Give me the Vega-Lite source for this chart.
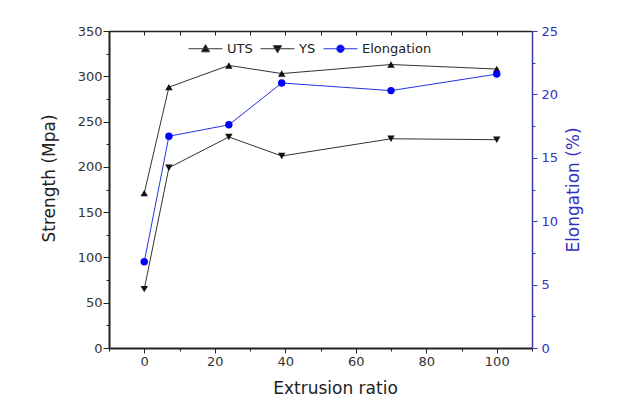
{
  "$schema": "https://vega.github.io/schema/vega-lite/v6.json",
  "width": 423,
  "height": 317,
  "autosize": "none",
  "padding": {"left": 109, "top": 31, "right": 86, "bottom": 65},
  "background": "white",
  "config": {
    "font": "DejaVu Sans",
    "view": {"stroke": null},
    "axis": {
      "grid": false,
      "labelFont": "DejaVu Sans",
      "labelFontSize": 13,
      "labelColor": "#333333",
      "titleFont": "DejaVu Sans",
      "titleFontSize": 17,
      "titleFontWeight": "normal",
      "titleColor": "#222222",
      "domainColor": "#222222",
      "domainWidth": 2,
      "tickColor": "#222222",
      "tickWidth": 1
    }
  },
  "data": {
    "values": [
      {"ratio": 0, "series": "UTS", "value": 171},
      {"ratio": 7, "series": "UTS", "value": 288},
      {"ratio": 24, "series": "UTS", "value": 312},
      {"ratio": 39, "series": "UTS", "value": 303},
      {"ratio": 70, "series": "UTS", "value": 313},
      {"ratio": 100, "series": "UTS", "value": 308},
      {"ratio": 0, "series": "YS", "value": 65},
      {"ratio": 7, "series": "YS", "value": 199},
      {"ratio": 24, "series": "YS", "value": 233},
      {"ratio": 39, "series": "YS", "value": 212},
      {"ratio": 70, "series": "YS", "value": 231},
      {"ratio": 100, "series": "YS", "value": 230},
      {"ratio": 0, "series": "Elongation", "value": 6.8},
      {"ratio": 7, "series": "Elongation", "value": 16.7},
      {"ratio": 24, "series": "Elongation", "value": 17.6},
      {"ratio": 39, "series": "Elongation", "value": 20.9},
      {"ratio": 70, "series": "Elongation", "value": 20.3},
      {"ratio": 100, "series": "Elongation", "value": 21.6}
    ]
  },
  "layer": [
    {
      "transform": [{"filter": "datum.series !== 'Elongation'"}],
      "encoding": {
        "x": {
          "field": "ratio",
          "type": "quantitative",
          "scale": {"domain": [-10, 110], "nice": false, "zero": false},
          "axis": {
            "orient": "bottom",
            "title": "Extrusion ratio",
            "titleX": 226,
            "titlePadding": 12,
            "values": [-10, 0, 10, 20, 30, 40, 50, 60, 70, 80, 90, 100, 110],
            "labelExpr": "(datum.value % 20 === 0 && datum.value >= 0 && datum.value <= 100) ? datum.label : ''",
            "tickSize": {"condition": {"test": "datum.value % 20 === 0", "value": 5}, "value": 3},
            "labelPadding": 2,
            "labelFlush": false,
            "labelOverlap": false
          }
        },
        "y": {
          "field": "value",
          "type": "quantitative",
          "scale": {"domain": [0, 350], "nice": false},
          "axis": {
            "orient": "left",
            "title": "Strength (Mpa)",
            "titleY": 147,
            "titlePadding": 19,
            "values": [0, 25, 50, 75, 100, 125, 150, 175, 200, 225, 250, 275, 300, 325, 350],
            "labelExpr": "datum.value % 50 === 0 ? datum.label : ''",
            "tickSize": {"condition": {"test": "datum.value % 50 === 0", "value": 6}, "value": 3},
            "labelPadding": 1,
            "labelFlush": false,
            "labelOverlap": false
          }
        }
      },
      "layer": [
        {
          "mark": {"type": "line", "color": "#333333", "strokeWidth": 1},
          "encoding": {"detail": {"field": "series", "type": "nominal"}}
        },
        {
          "transform": [{"filter": "datum.series === 'UTS'"}],
          "mark": {"type": "point", "filled": true, "color": "#111111", "size": 55, "opacity": 1, "shape": "triangle-up"},
          "encoding": {}
        },
        {
          "transform": [{"filter": "datum.series === 'YS'"}],
          "mark": {"type": "point", "filled": true, "color": "#111111", "size": 55, "opacity": 1, "shape": "triangle-down"},
          "encoding": {}
        }
      ]
    },
    {
      "transform": [{"filter": "datum.series === 'Elongation'"}],
      "encoding": {
        "x": {
          "field": "ratio",
          "type": "quantitative",
          "scale": {"domain": [-10, 110], "nice": false, "zero": false},
          "axis": {
            "orient": "top",
            "title": null,
            "labels": false,
            "values": [-10, 0, 10, 20, 30, 40, 50, 60, 70, 80, 90, 100, 110],
            "tickSize": -4,
            "domainWidth": 1.5
          }
        },
        "y": {
          "field": "value",
          "type": "quantitative",
          "scale": {"domain": [0, 25], "nice": false},
          "axis": {
            "orient": "right",
            "title": "Elongation (%)",
            "titleAngle": 270,
            "titleBaseline": "top",
            "titlePadding": 8,
            "titleColor": "#3333bb",
            "labelColor": "#3333bb",
            "domainColor": "#3b3bb0",
            "domainWidth": 1.5,
            "tickColor": "#3b3bb0",
            "values": [0, 2.5, 5, 7.5, 10, 12.5, 15, 17.5, 20, 22.5, 25],
            "labelExpr": "datum.value % 5 === 0 ? datum.label : ''",
            "tickSize": {"condition": {"test": "datum.value % 5 === 0", "value": 5}, "value": 3},
            "labelPadding": 4,
            "labelFlush": false,
            "labelOverlap": false
          }
        }
      },
      "layer": [
        {
          "mark": {"type": "line", "color": "#2233dd", "strokeWidth": 1},
          "encoding": {}
        },
        {
          "mark": {"type": "point", "filled": true, "color": "#0000ff", "size": 55, "opacity": 1, "shape": "circle"},
          "encoding": {}
        }
      ]
    },
    {
      "transform": [{"filter": "false"}],
      "mark": {"type": "point", "opacity": 1, "strokeWidth": 1},
      "encoding": {
        "shape": {
          "field": "series",
          "type": "nominal",
          "scale": {
            "domain": ["UTS", "YS", "Elongation"],
            "range": [
              "M-1,0L1,0M0,-0.24L0.24,0.18L-0.24,0.18Z",
              "M-1,0L1,0M0,0.24L0.24,-0.18L-0.24,-0.18Z",
              "M-1,0L1,0M0.22,0A0.22,0.22 0 1 1 -0.22,0A0.22,0.22 0 1 1 0.22,0Z"
            ]
          },
          "legend": {
            "orient": "none",
            "legendX": 79,
            "legendY": 0,
            "direction": "horizontal",
            "title": null,
            "symbolSize": 1156,
            "labelFontSize": 13,
            "labelFont": "DejaVu Sans",
            "labelColor": "#222222",
            "labelOffset": 4,
            "columnPadding": 5,
            "padding": 0,
            "symbolStrokeWidth": 1,
            "symbolOpacity": 1
          }
        },
        "fill": {
          "field": "series",
          "type": "nominal",
          "scale": {"domain": ["UTS", "YS", "Elongation"], "range": ["#111111", "#111111", "#0000ff"]},
          "legend": {"title": null}
        },
        "stroke": {
          "field": "series",
          "type": "nominal",
          "scale": {"domain": ["UTS", "YS", "Elongation"], "range": ["#333333", "#333333", "#2233dd"]},
          "legend": {"title": null}
        }
      }
    }
  ],
  "resolve": {"scale": {"y": "independent"}, "axis": {"x": "independent"}}
}
